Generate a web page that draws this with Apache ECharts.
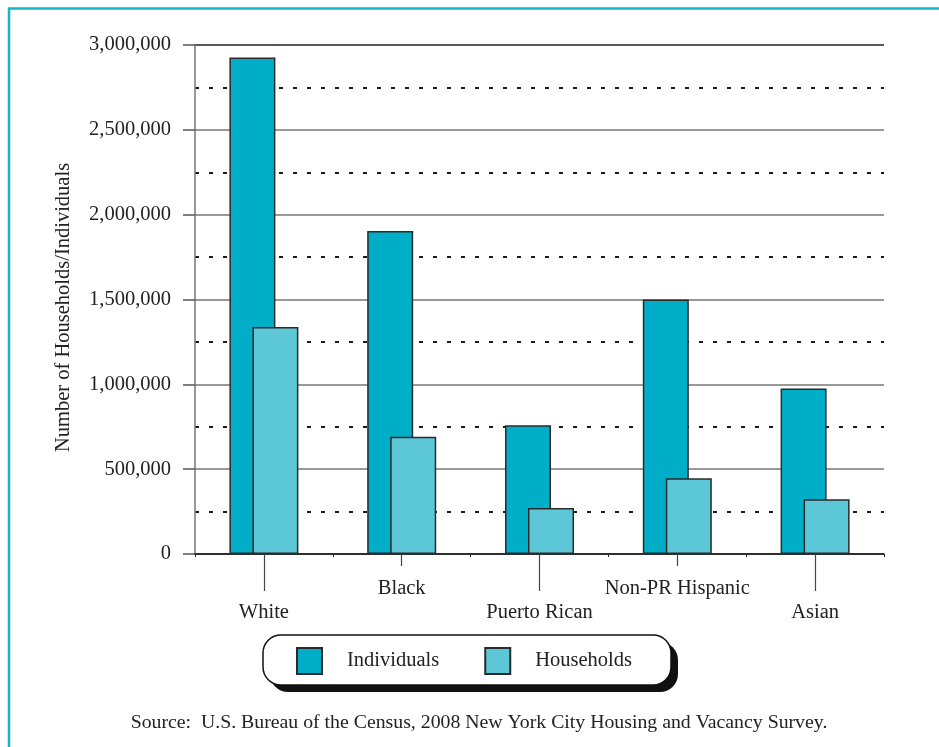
<!DOCTYPE html>
<html>
<head>
<meta charset="utf-8">
<script src="https://cdn.jsdelivr.net/npm/echarts@6/dist/echarts.min.js"></script>
<style>
  html, body { margin: 0; padding: 0; background: #fff; }
  #chart { width: 939px; height: 747px; }
</style>
</head>
<body>
<div id="chart"></div>
<script>
// Population and households by race/ethnicity, New York City 2008
const categories = ['White', 'Black', 'Puerto Rican', 'Non-PR Hispanic', 'Asian'];
const individuals = [2927000, 1904000, 759000, 1500000, 975000];
const households = [1338000, 691000, 271000, 446000, 322000];
const seriesNames = ['Individuals', 'Households'];
const yAxisTitle = 'Number of Households/Individuals';
const sourceNote = 'Source:  U.S. Bureau of the Census, 2008 New York City Housing and Vacancy Survey.';

const FONT = '"Liberation Serif", "Times New Roman", serif';
const TEXT = '#222';
const DARK = '#00AFC7';
const LIGHT = '#5CC7D6';

const chart = echarts.init(document.getElementById('chart'), null, { renderer: 'canvas' });

const fmt = v => v.toLocaleString('en-US');

// upper-row labels sit on odd indices, lower-row labels on even indices
const isUpper = i => i % 2 === 1;
const isLower = i => i % 2 === 0;

const labelAxis = (pick, tickLen, margin) => ({
  type: 'category',
  data: categories,
  position: 'bottom',
  gridIndex: 0,
  axisLine: { show: false },
  axisTick: {
    show: true,
    alignWithLabel: true,
    length: tickLen,
    interval: (i) => pick(i),
    lineStyle: { color: '#444', width: 1.2 }
  },
  axisLabel: {
    show: true,
    interval: (i) => pick(i),
    margin: margin,
    fontFamily: FONT,
    fontSize: 20.5,
    color: TEXT
  },
  splitLine: { show: false }
});

chart.setOption({
  animation: false,
  backgroundColor: '#fff',
  grid: { left: 195, right: 55, top: 45, bottom: 193, containLabel: false },
  xAxis: [
    {
      type: 'category',
      data: categories,
      position: 'bottom',
      axisLine: { show: true, lineStyle: { color: '#222', width: 1.5 } },
      axisTick: { show: true, length: 3, lineStyle: { color: '#222' } },
      axisLabel: { show: false },
      splitLine: { show: false }
    },
    labelAxis(isUpper, 12, 24),
    labelAxis(isLower, 37, 48)
  ],
  yAxis: {
    type: 'value',
    min: 0,
    max: 3000000,
    interval: 500000,
    name: yAxisTitle,
    nameLocation: 'middle',
    nameRotate: 90,
    nameGap: 121,
    nameTextStyle: {
      fontFamily: FONT,
      fontSize: 20.5,
      color: TEXT,
      padding: [0, 16, 0, 0]
    },
    axisLine: { show: true, lineStyle: { color: '#777', width: 1.5 } },
    axisTick: { show: true, length: 12, lineStyle: { color: '#555', width: 1.5 } },
    axisLabel: {
      margin: 24,
      fontFamily: FONT,
      fontSize: 20.5,
      color: TEXT,
      formatter: v => fmt(v)
    },
    splitLine: {
      show: true,
      lineStyle: {
        color: ['#222', '#777', '#777', '#777', '#777', '#777', '#222'],
        width: 1.5
      }
    },
    minorTick: { show: false, splitNumber: 2 },
    minorSplitLine: {
      show: true,
      lineStyle: { color: '#1a1a1a', width: 2, type: [4, 10] }
    }
  },
  legend: {
    data: seriesNames,
    left: 296,
    top: 647,
    orient: 'horizontal',
    icon: 'rect',
    itemWidth: 25,
    itemHeight: 26,
    itemGap: 45,
    padding: 0,
    z: 10,
    textStyle: {
      fontFamily: FONT,
      fontSize: 20.5,
      color: TEXT,
      padding: [0, 0, 0, 20]
    }
  },
  graphic: [
    {
      // cyan page frame
      type: 'rect',
      z: 0,
      shape: { x: 9, y: 8.5, width: 1000, height: 800 },
      style: { fill: 'none', stroke: '#17B3C9', lineWidth: 2.5 }
    },
    {
      // legend panel drop shadow
      type: 'rect',
      z: 1,
      shape: { x: 270, y: 642, width: 408, height: 50, r: 18 },
      style: { fill: '#111' }
    },
    {
      // legend panel
      type: 'rect',
      z: 2,
      shape: { x: 263, y: 635, width: 408, height: 50, r: 18 },
      style: { fill: '#fff', stroke: '#111', lineWidth: 1.5 }
    },
    {
      type: 'text',
      z: 2,
      x: 479,
      y: 723,
      style: {
        text: sourceNote,
        fontFamily: FONT,
        fontSize: 19.8,
        fill: TEXT,
        align: 'center',
        verticalAlign: 'middle'
      }
    }
  ],
  series: [
    {
      name: seriesNames[0],
      type: 'bar',
      xAxisIndex: 0,
      data: individuals,
      barWidth: 46,
      barGap: '-50%',
      itemStyle: { color: DARK, borderColor: '#2a2a2a', borderWidth: 1.5 }
    },
    {
      name: seriesNames[1],
      type: 'bar',
      xAxisIndex: 0,
      data: households,
      barWidth: 46,
      barGap: '-50%',
      itemStyle: { color: LIGHT, borderColor: '#2a2a2a', borderWidth: 1.5 }
    }
  ]
});
</script>
</body>
</html>
